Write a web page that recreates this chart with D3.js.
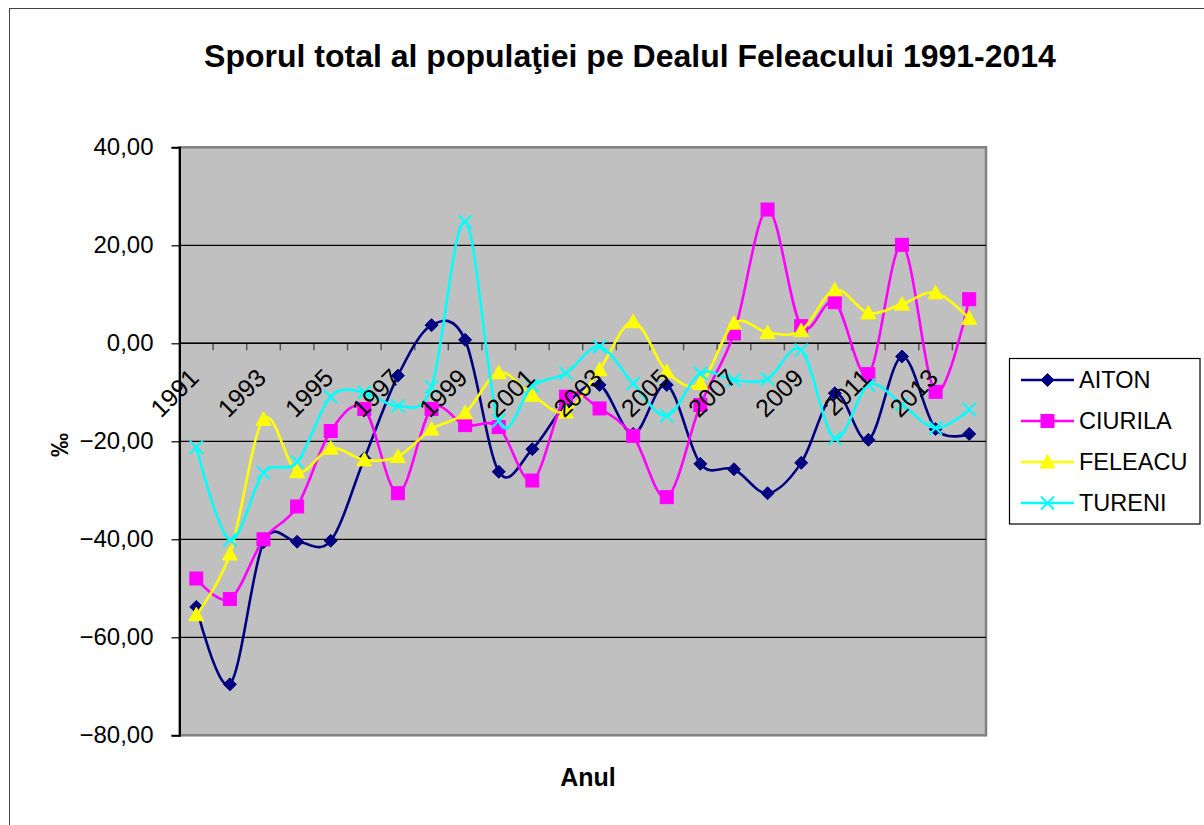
<!DOCTYPE html>
<html>
<head>
<meta charset="utf-8">
<script src="https://cdn.jsdelivr.net/npm/d3@7"></script>
<style>
  html, body { margin: 0; padding: 0; background: #fff; }
  svg { display: block; }
  text { font-family: Arial, "Liberation Sans", sans-serif; }
</style>
</head>
<body>
<svg id="chart" width="1204" height="825"></svg>
<script>
const years = [1991,1992,1993,1994,1995,1996,1997,1998,1999,2000,2001,2002,2003,2004,2005,2006,2007,2008,2009,2010,2011,2012,2013,2014];
const aiton   = [-53.8,-69.6,-40.6,-40.5,-40.3,-23.5,-6.6,3.7,0.7,-26.2,-21.6,-12.5,-8.5,-18.5,-8.5,-24.6,-25.7,-30.6,-24.4,-10.2,-19.7,-2.7,-17.5,-18.5];
const ciurila = [-48.0,-52.2,-40.0,-33.3,-17.9,-13.4,-30.6,-13.4,-16.7,-17.1,-28.0,-10.9,-13.3,-18.9,-31.4,-12.6,2.0,27.3,3.5,8.4,-6.3,20.1,-9.9,9.0];
const feleacu = [-55.4,-43.0,-15.5,-26.2,-21.4,-23.8,-23.1,-17.5,-14.2,-6.0,-10.6,-14.0,-5.4,4.4,-5.8,-8.2,4.1,2.2,2.6,10.9,6.2,8.0,10.3,5.1];
const tureni  = [-21.2,-40.1,-26.4,-24.2,-10.9,-10.0,-12.8,-8.9,24.8,-15.8,-8.7,-6.1,-0.7,-8.2,-14.8,-6.1,-7.5,-7.3,-1.4,-19.4,-8.5,-12.5,-17.3,-13.5];
const seriesNames = ["AITON","CIURILA","FELEACU","TURENI"];
const seriesColors = ["#000080","#FF00FF","#FFFF00","#00FFFF"];
const seriesMarkers = ["diamond","square","triangle","cross"];
const yTicks = [40,20,0,-20,-40,-60,-80];
const xTickLabels = [1991,1993,1995,1997,1999,2001,2003,2005,2007,2009,2011,2013];
const titleText = "Sporul total al populaţiei pe Dealul Feleacului 1991-2014";
const xTitle = "Anul";
const yTitle = "‰";

const seriesValues = [aiton, ciurila, feleacu, tureni];

const svg = d3.select("#chart");
const L = 179.5, R = 986, T = 147.3, B = 735.3;

// outer chart border
svg.append("rect").attr("x", 9.5).attr("y", 8.5).attr("width", 1220).attr("height", 840)
  .attr("fill", "#fff").attr("stroke", "#444").attr("stroke-width", 1);

const x = d3.scaleBand().domain(years).range([L, R]).padding(0);
const y = d3.scaleLinear().domain([-80, 40]).range([B, T]);
const cx = d => x(d) + x.bandwidth() / 2;

// plot area
svg.append("rect").attr("x", L).attr("y", T).attr("width", R - L).attr("height", B - T)
  .attr("fill", "#C0C0C0").attr("stroke", "#808080").attr("stroke-width", 2.5);

// gridlines
svg.append("g").selectAll("line").data(yTicks.filter(v => v !== -80 && v !== 40)).join("line")
  .attr("x1", L).attr("x2", R).attr("y1", d => y(d)).attr("y2", d => y(d))
  .attr("stroke", "#000").attr("stroke-width", 1.2);

// y axis
const yAxis = d3.axisLeft(y).tickValues(yTicks).tickSize(8).tickPadding(18)
  .tickFormat(d => d3.format(".2f")(d).replace(".", ","));
const gy = svg.append("g").attr("transform", `translate(${L},0)`).call(yAxis);
gy.select(".domain").attr("stroke", "#000").attr("stroke-width", 2);
gy.selectAll(".tick line").attr("stroke", "#000").attr("stroke-width", 1.2);
gy.selectAll(".tick text").attr("font-size", 24).attr("fill", "#000")
  .style("font-family", "Arial, 'Liberation Sans', sans-serif");

// x axis along zero line: ticks at category boundaries
const boundaries = years.slice(1);
svg.append("g").selectAll("line").data(boundaries).join("line")
  .attr("x1", d => x(d)).attr("x2", d => x(d))
  .attr("y1", y(0)).attr("y2", y(0) + 7)
  .attr("stroke", "#555").attr("stroke-width", 1.5);
svg.append("line").attr("x1", L).attr("x2", R).attr("y1", y(0)).attr("y2", y(0))
  .attr("stroke", "#000").attr("stroke-width", 1.5);

// series
const line = d3.line().x((d, i) => cx(years[i])).y(d => y(d)).curve(d3.curveCatmullRom.alpha(0));

function drawMarker(g, type, color, px, py) {
  if (type === "diamond") {
    g.append("path").attr("d", `M${px},${py-6.5}L${px+6.5},${py}L${px},${py+6.5}L${px-6.5},${py}Z`)
      .attr("fill", color).attr("stroke", color).attr("stroke-width", 1);
  } else if (type === "square") {
    g.append("rect").attr("x", px - 6.5).attr("y", py - 6.5).attr("width", 13).attr("height", 13)
      .attr("fill", color).attr("stroke", color).attr("stroke-width", 1);
  } else if (type === "triangle") {
    g.append("path").attr("d", `M${px},${py-7.5}L${px+7.5},${py+6}L${px-7.5},${py+6}Z`)
      .attr("fill", color).attr("stroke", color).attr("stroke-width", 1);
  } else if (type === "cross") {
    g.append("path").attr("d", `M${px-6.5},${py-6.5}L${px+6.5},${py+6.5}M${px+6.5},${py-6.5}L${px-6.5},${py+6.5}`)
      .attr("stroke", color).attr("stroke-width", 2).attr("fill", "none");
  }
}

const plotG = svg.append("g");
seriesValues.forEach((vals, si) => {
  const g = plotG.append("g");
  g.append("path").datum(vals).attr("d", line)
    .attr("fill", "none").attr("stroke", seriesColors[si]).attr("stroke-width", 2.6);
  vals.forEach((v, i) => drawMarker(g, seriesMarkers[si], seriesColors[si], cx(years[i]), y(v)));
});

// x tick labels (rotated, on top of plot)
svg.append("g").selectAll("text").data(xTickLabels).join("text")
  .attr("transform", d => `translate(${cx(d) + 4},${y(0) + 36}) rotate(-45)`)
  .attr("text-anchor", "end").attr("font-size", 25).attr("fill", "#000")
  .text(d => d);

// title
svg.append("text").attr("x", 630).attr("y", 67).attr("text-anchor", "middle")
  .attr("font-size", 32).attr("font-weight", "bold").attr("fill", "#000").text(titleText);

// axis titles
svg.append("text").attr("x", 588).attr("y", 786).attr("text-anchor", "middle")
  .attr("font-size", 25).attr("font-weight", "bold").attr("fill", "#000").text(xTitle);
svg.append("text").attr("transform", "translate(68,445) rotate(-90)").attr("text-anchor", "middle")
  .attr("font-size", 24).attr("font-weight", "bold").attr("fill", "#000").text(yTitle);

// legend
const lg = svg.append("g");
lg.append("rect").attr("x", 1009.5).attr("y", 358.5).attr("width", 190.5).attr("height", 165.5)
  .attr("fill", "#fff").attr("stroke", "#000").attr("stroke-width", 1.2);
seriesNames.forEach((name, i) => {
  const ly = 380 + i * 41;
  lg.append("line").attr("x1", 1021).attr("x2", 1074).attr("y1", ly).attr("y2", ly)
    .attr("stroke", seriesColors[i]).attr("stroke-width", 2.6);
  drawMarker(lg, seriesMarkers[i], seriesColors[i], 1047.5, ly);
  lg.append("text").attr("x", 1079).attr("y", ly).attr("dy", "0.36em")
    .attr("font-size", 23.5).attr("fill", "#000").text(name);
});
</script>
</body>
</html>
